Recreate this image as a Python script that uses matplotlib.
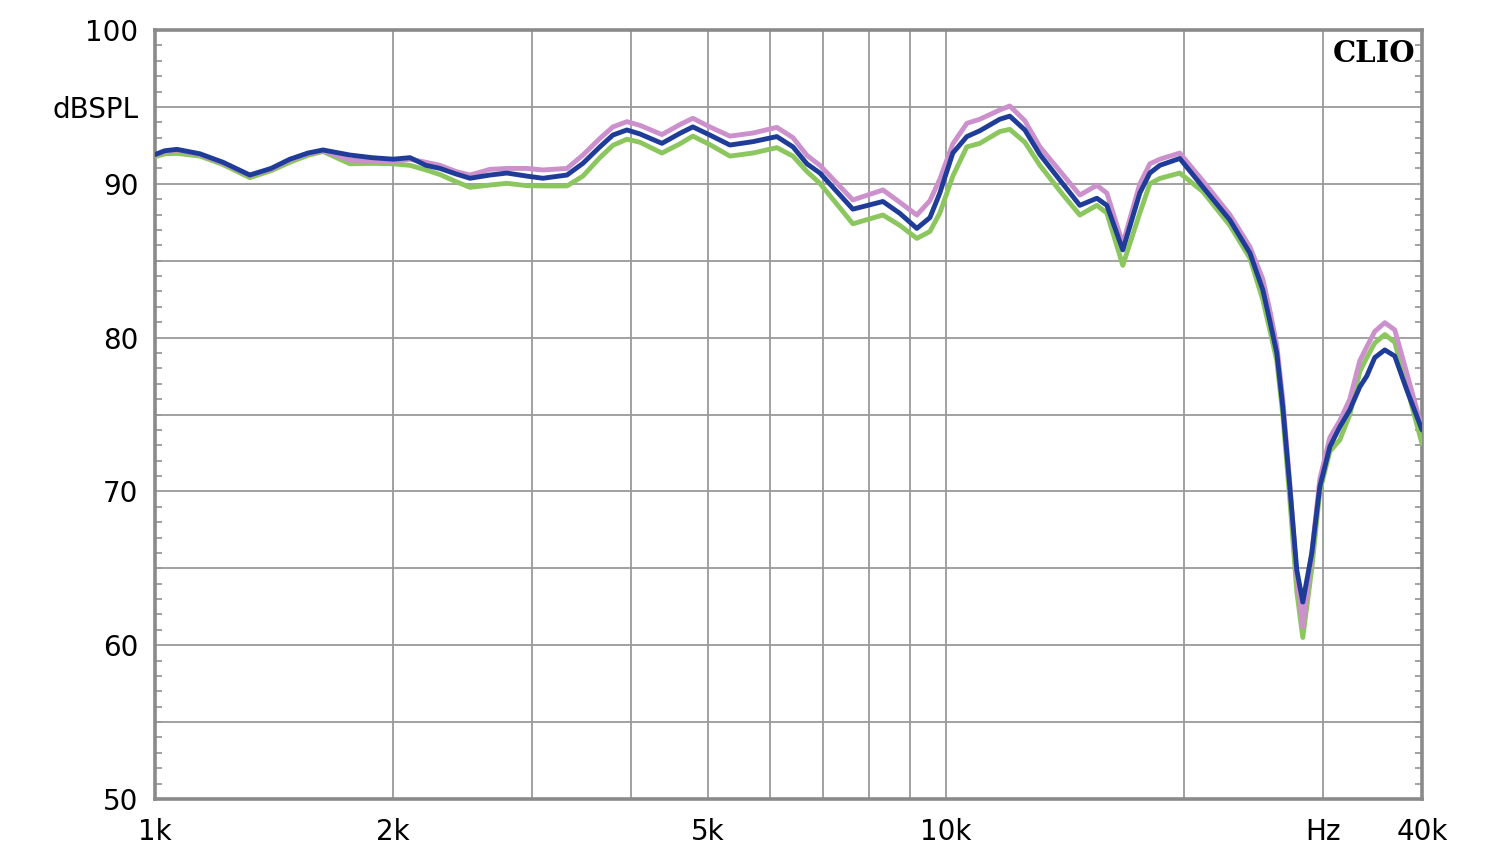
import numpy as np
import matplotlib.pyplot as plt
from matplotlib.ticker import FixedLocator, NullFormatter

# -----------------------------
# Data (Hz, dB SPL)
# -----------------------------
freq = [1000, 1029, 1066, 1140, 1219, 1318, 1402, 1481, 1561, 1631, 1764, 1881,
        2000, 2101, 2201, 2293, 2402, 2502, 2652, 2786, 2953, 3094, 3318, 3476,
        3652, 3793, 3951, 4104, 4375, 4610, 4787, 5030, 5333, 5702, 6113, 6407,
        6673, 6930, 7628, 8325, 8745, 9190, 9546, 9826, 10205, 10630, 11040,
        11701, 12046, 12586, 13150, 14057, 14770, 15521, 15979, 16739, 17590,
        18111, 18645, 19760, 21126, 22857, 24235, 25165, 25679, 26210, 26669,
        27221, 27779, 28270, 29022, 29706, 30586, 31489, 32417, 33376, 34060,
        34860, 35892, 36950, 38265, 40000]

spl_blue = [91.9, 92.15, 92.24, 91.95, 91.4, 90.57, 91.0, 91.6, 92.0, 92.2, 91.87, 91.7,
            91.6, 91.7, 91.2, 91.0, 90.64, 90.36, 90.57, 90.7, 90.5, 90.36, 90.57, 91.33,
            92.4, 93.17, 93.5, 93.24, 92.63, 93.28, 93.7, 93.17, 92.52, 92.74, 93.07, 92.4,
            91.3, 90.7, 88.35, 88.85, 88.08, 87.1, 87.8, 89.4, 92.0, 93.07, 93.45,
            94.2, 94.4, 93.5, 91.9, 90.0, 88.6, 89.06, 88.6, 85.7, 89.4,
            90.7, 91.2, 91.65, 89.8, 87.65, 85.5, 83.1, 81.1, 79.0, 75.5,
            70.3, 64.9, 62.8, 66.0, 70.3, 72.9, 74.2, 75.3, 76.8, 77.5,
            78.7, 79.2, 78.8, 76.6, 74.0]

spl_pink = [91.85, 92.1, 92.2, 91.9, 91.35, 90.55, 90.95, 91.55, 91.95, 92.15, 91.55, 91.48,
            91.44, 91.6, 91.4, 91.2, 90.8, 90.57, 90.94, 91.0, 91.0, 90.9, 91.0, 91.87,
            92.95, 93.7, 94.04, 93.8, 93.2, 93.85, 94.26, 93.7, 93.1, 93.3, 93.67, 93.0,
            91.85, 91.2, 88.95, 89.6, 88.8, 87.97, 88.9, 90.3, 92.6, 93.93, 94.2,
            94.8, 95.06, 94.1, 92.4, 90.6, 89.27, 89.9, 89.4, 86.1, 90.0,
            91.3, 91.6, 92.0, 90.2, 88.0, 85.9, 83.8, 81.8, 79.5, 76.0,
            70.5, 64.5, 61.2, 66.0, 70.8, 73.5, 74.6, 76.0, 78.5, 79.4,
            80.4, 80.97, 80.5, 77.7, 74.1]

spl_green = [91.76, 91.95, 91.98, 91.8, 91.25, 90.4, 90.85, 91.4, 91.85, 92.1, 91.3, 91.33,
             91.3, 91.2, 90.9, 90.6, 90.14, 89.77, 89.92, 90.03, 89.88, 89.86, 89.86, 90.5,
             91.7, 92.5, 92.9, 92.7, 92.0, 92.6, 93.1, 92.55, 91.8, 92.0, 92.35, 91.8,
             90.8, 90.03, 87.4, 87.97, 87.3, 86.45, 86.9, 88.1, 90.5, 92.4, 92.63,
             93.4, 93.54, 92.7, 91.2, 89.3, 87.97, 88.6, 88.1, 84.7, 88.1,
             90.0, 90.35, 90.7, 89.5, 87.3, 85.16, 82.45, 80.5, 78.5, 75.0,
             69.5, 63.5, 60.5, 65.0, 70.0, 72.6, 73.35, 75.0, 77.8, 78.7,
             79.65, 80.2, 79.7, 76.8, 73.1]

x_ticks = [1000, 2000, 5000, 10000, 30000, 40000]
x_labels = ['1k', '2k', '5k', '10k', 'Hz', '40k']
x_grid = [2000, 3000, 4000, 5000, 6000, 7000, 8000, 9000, 10000, 20000, 30000]
y_ticks = [50, 60, 70, 80, 90, 95, 100]
y_labels = ['50', '60', '70', '80', '90', 'dBSPL', '100']
y_grid = [55, 60, 65, 70, 75, 80, 85, 90, 95]

# -----------------------------
# Plot
# -----------------------------
fig = plt.figure(figsize=(15, 8.64), dpi=100)
ax = fig.add_axes([155 / 1500, 1 - 799 / 864, 1267 / 1500, 769 / 864])

grid_col = '#9a9a9a'
for f in x_grid:
    ax.axvline(f, color=grid_col, lw=1.3, zorder=1)
for v in y_grid:
    ax.axhline(v, color=grid_col, lw=1.3, zorder=1)

lw = 3.5
style = dict(lw=lw, solid_joinstyle='round', solid_capstyle='round')
ax.plot(freq, spl_green, color='#8cc65e', zorder=3, **style)
ax.plot(freq, spl_pink, color='#cc90cc', zorder=4, **style)
ax.plot(freq, spl_blue, color='#1f3d98', zorder=5, **style)

ax.set_xscale('log')
ax.set_xlim(1000, 40000)
ax.set_ylim(50, 100)

ax.xaxis.set_major_locator(FixedLocator(x_ticks))
ax.set_xticklabels(x_labels)
ax.xaxis.set_minor_formatter(NullFormatter())
ax.tick_params(axis='x', which='both', length=0, pad=14, labelsize=20)

ax.set_yticks(y_ticks)
ax.set_yticklabels(y_labels)
ax.yaxis.set_minor_locator(FixedLocator(np.arange(50, 101, 1)))
ax.tick_params(axis='y', which='major', length=0, pad=12, labelsize=20)
ax.tick_params(axis='y', which='minor', direction='in', length=5, width=1.3,
               color=grid_col, left=True, right=True)

for s in ax.spines.values():
    s.set_color('#8a8a8a')
    s.set_linewidth(2.6)

ax.text(0.995, 0.988, 'CLIO', transform=ax.transAxes, ha='right', va='top',
        fontsize=21, fontweight='bold', family='DejaVu Serif', color='black', zorder=6)

fig.savefig('out.png', dpi=100, facecolor='white')
